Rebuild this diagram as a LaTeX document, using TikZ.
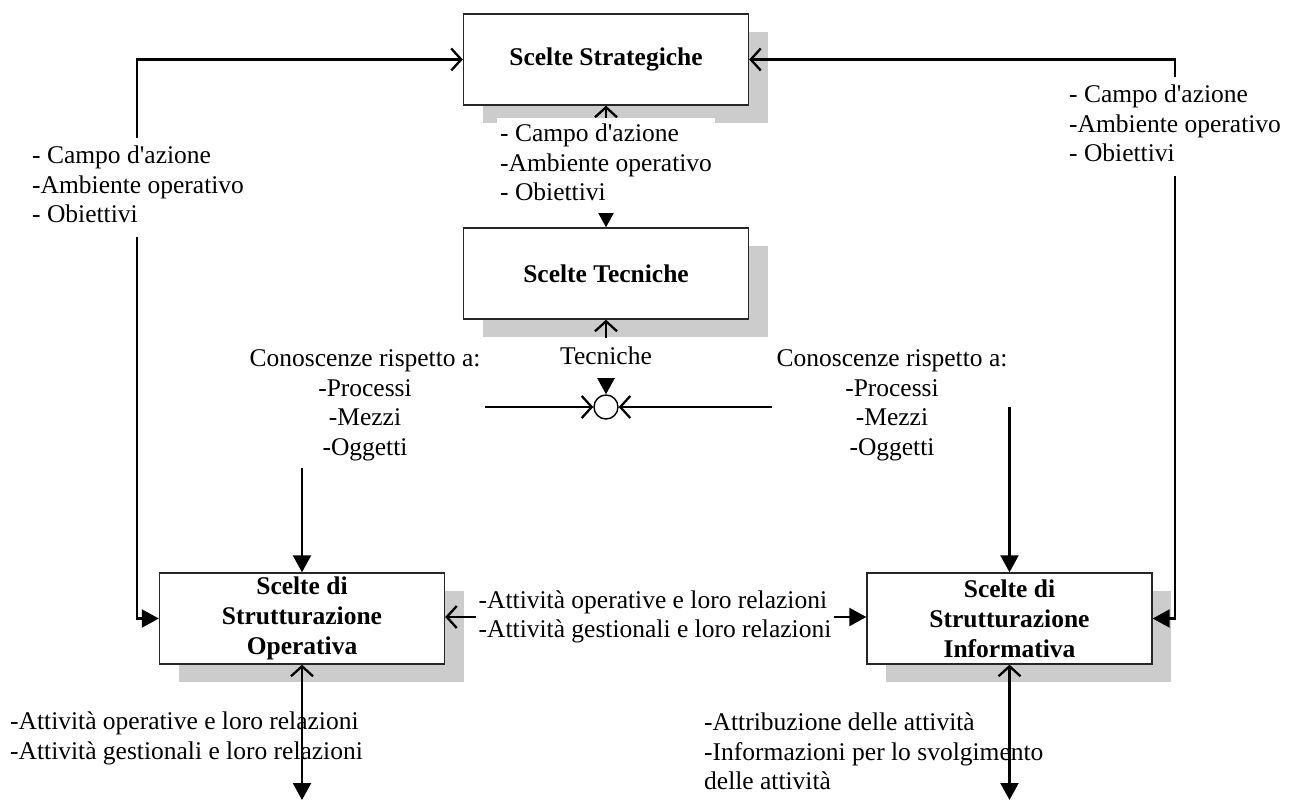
\documentclass[tikz,border=0pt]{standalone}
\usepackage{fontspec}
\setmainfont{Liberation Serif}
\usetikzlibrary{arrows.meta,shadows}
\definecolor{shadowgray}{RGB}{204,204,204}
\tikzset{
  fa/.tip={Triangle[length=17pt,width=18pt]},
  ob/.tip={Straight Barb[length=10pt,width=22pt]}
}
\begin{document}
\begin{tikzpicture}[x=1pt,y=-1pt,
  every node/.style={font=\fontsize{25.5}{29.5}\selectfont},
  box/.style={draw=black!85, line width=1.4pt, fill=white,
    minimum width=285pt, minimum height=91pt, inner sep=0pt, align=center,
    font=\fontsize{25.5}{30}\selectfont\bfseries,
    general shadow={fill=shadowgray, shadow xshift=19pt, shadow yshift=-18pt}},
  conn/.style={line width=2.3pt},
  plainlab/.style={align=left, inner sep=0pt},
  whitelab/.style={align=left, fill=white, inner sep=5pt},
  knowlab/.style={align=center, inner sep=4pt}
]
\useasboundingbox (0,0) rectangle (1299,802);

% decision boxes
\node[box] (SS) at (606,59.5) {Scelte Strategiche};
\node[box] (ST) at (606,273.5) {Scelte Tecniche};
\node[box] (SO) at (302,618.5) {Scelte di\\Strutturazione\\Operativa};
\node[box] (SI) at (1009.5,618.5) {Scelte di\\Strutturazione\\Informativa};

% junction of the knowledge flows
\node[circle, draw, line width=1.4pt, fill=white, minimum size=24pt, inner sep=0pt] (C) at (606,407) {};

% knowledge labels
\node[knowlab, anchor=north] (CL) at (365,342)
  {\strut Conoscenze rispetto a:\\-Processi\\-Mezzi\\-Oggetti\strut};
\node[knowlab, anchor=north] (CR) at (892,342)
  {\strut Conoscenze rispetto a:\\-Processi\\-Mezzi\\-Oggetti\strut};

% activities between the two structuring boxes
\node[align=left, inner sep=2.5pt] (AL) at (655,617)
  {\strut-Attività operative e loro relazioni\\-Attività gestionali e loro relazioni\strut};

% outputs at the bottom
\node[plainlab, anchor=north west] (BL) at (10,709)
  {\strut-Attività operative e loro relazioni\\-Attività gestionali e loro relazioni};
\node[plainlab, anchor=north west] (BR) at (704,710)
  {\strut-Attribuzione delle attività\\-Informazioni per lo svolgimento\\delle attività};

% routing helpers
\coordinate (LX) at (137,0);
\coordinate (RX) at (1175,0);
\coordinate (BOT) at (0,800);

% connectors
\draw[conn, {ob}-{fa}] (SS.west) -- (SS.west -| LX) |- (SO.west);
\draw[conn, {ob}-{fa}] (SS.east) -- (SS.east -| RX) |- (SI.east);
\draw[conn, {fa}-{ob}] (ST.north) -- (SS.south);
\draw[conn, {fa}-{ob}] (C.north) -- (ST.south);
\draw[conn, -{ob}] (CL.east |- C) -- (C.west);
\draw[conn, -{ob}] (CR.west |- C) -- (C.east);
\draw[conn, -{fa}] (SO.north |- CL.south) -- (SO.north);
\draw[conn, -{fa}] (SI.north |- C) -- (SI.north);
\draw[conn, -{ob}] (AL.west) -- (AL.west -| SO.east);
\draw[conn, -{fa}] (AL.east) -- (AL.east -| SI.west);
\draw[conn, {ob}-{fa}] (SO.south) -- (SO.south |- BOT);
\draw[conn, {ob}-{fa}] (SI.south) -- (SI.south |- BOT);

% labels that sit on top of the connectors
\node[whitelab, anchor=north west] (LL) at (27,138)
  {\strut- Campo d\textquotesingle azione\\-Ambiente operativo\\- Obiettivi\strut};
\node[whitelab, anchor=north west] (RL) at (1064,77)
  {\strut- Campo d\textquotesingle azione\\-Ambiente operativo\\- Obiettivi\strut};
\node[whitelab, inner sep=3pt, anchor=north west] (ML) at (497,118)
  {\strut- Campo d\textquotesingle azione\\-Ambiente operativo\\- Obiettivi\strut};
\node[fill=white, inner xsep=4pt, inner ysep=5pt, text height=20.65pt, text depth=8.85pt,
  anchor=base] (TL) at (606,364) {Tecniche};
\end{tikzpicture}
\end{document}
